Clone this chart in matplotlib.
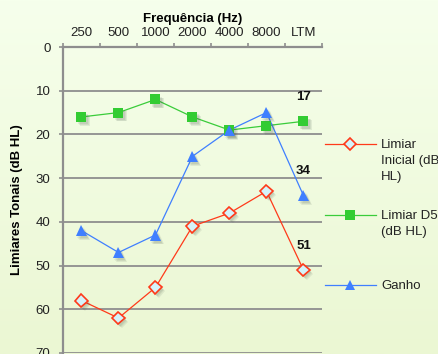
import numpy as np
import matplotlib
matplotlib.use("Agg")
import matplotlib.pyplot as plt
from matplotlib.lines import Line2D
import matplotlib.patheffects as pe

plt.rcParams['font.family'] = ['Liberation Sans', 'DejaVu Sans']

# Audiometric data
frequencies = ["250", "500", "1000", "2000", "4000", "8000", "LTM"]
limiar_inicial = [58, 62, 55, 41, 38, 33, 51]
limiar_d5 = [16, 15, 12, 16, 19, 18, 17]
ganho = [42, 47, 43, 25, 19, 15, 34]
y_ticks = [0, 10, 20, 30, 40, 50, 60, 70]

W, H, DPI = 439, 354, 100
FS = 9.5
fig = plt.figure(figsize=(W / DPI, H / DPI), dpi=DPI)

# soft vertical gradient background
bg = fig.add_axes([0, 0, 1, 1], zorder=-10)
top_c = np.array([0xF6, 0xFF, 0xEC]) / 255
bot_c = np.array([0xEB, 0xF7, 0xD3]) / 255
t = np.linspace(0, 1, 256)[:, None, None]
grad = top_c * (1 - t) + bot_c * t
grad = np.repeat(grad, 2, axis=1)
bg.imshow(grad, aspect='auto', extent=[0, 1, 0, 1])
bg.axis('off')

ax = fig.add_axes([63 / W, 1 - 353 / H, 259 / W, 306 / H])
ax.set_facecolor('none')

x = np.arange(len(frequencies))
grid_c = '#8E8E8E'

series = [
    (limiar_inicial, dict(color='#FF3A1A', marker='D', ms=6.4, mfc='#D4F3FA', mec='#FF3A1A', mew=1.2), "Limiar\nInicial (dB\nHL)"),
    (limiar_d5, dict(color='#3ACC3A', marker='s', ms=7.2, mfc='#33CC33', mec='#33CC33', mew=0), "Limiar D5\n(dB HL)"),
    (ganho, dict(color='#3F7FFF', marker='^', ms=8, mfc='#3F7FFF', mec='#3F7FFF', mew=0), "Ganho"),
]

# soft drop shadow under the markers
shadow = [pe.SimplePatchShadow(offset=(1.0 + d, -1.6 - d), shadow_rgbFace='#4A5A4A', alpha=0.10)
          for d in (0.0, 0.6, 1.2)] + [pe.Normal()]
for vals, st, _ in series:
    ax.plot(x, vals, color=st['color'], lw=0.9, zorder=3)
    ax.plot(x, vals, ls='none', marker=st['marker'], ms=st['ms'], mfc=st['mfc'],
            mec=st['mec'], mew=st['mew'], zorder=4, path_effects=shadow)

# value labels at LTM
for vals in (limiar_d5, ganho, limiar_inicial):
    ax.annotate(str(vals[-1]), (x[-1], vals[-1]), xytext=(0, 17.5), textcoords='offset points',
                ha='center', va='center', fontsize=FS, fontweight='bold', color='#111111', zorder=5)

ax.set_xlim(-0.5, len(frequencies) - 0.5)
ax.set_ylim(70, 0)
ax.set_yticks(y_ticks)
ax.yaxis.grid(True, color=grid_c, lw=1.3)
ax.set_axisbelow(True)

ax.xaxis.tick_top()
ax.xaxis.set_label_position('top')
ax.set_xticks(x)
ax.set_xticklabels(frequencies, fontsize=FS, color='#222222')
ax.set_xticks(np.arange(len(frequencies) + 1) - 0.5, minor=True)
ax.tick_params(axis='x', which='major', length=0, pad=6)
ax.tick_params(axis='x', which='minor', length=3, width=1.2, color=grid_c, top=True, bottom=False)
ax.tick_params(axis='y', length=3, width=1.2, color=grid_c, labelsize=FS, labelcolor='#222222', pad=6)
ax.set_xlabel("Frequência (Hz)", fontsize=FS, fontweight='bold', labelpad=3)
ax.set_ylabel("Limiares Tonais (dB HL)", fontsize=FS, fontweight='bold', labelpad=9)

for s in ('right', 'bottom'):
    ax.spines[s].set_visible(False)
for s in ('left', 'top'):
    ax.spines[s].set_color(grid_c)
    ax.spines[s].set_linewidth(1.6)

# legend drawn beside the plot
leg_rows = [144, 215, 285]
for (vals, st, label), yrow in zip(series, leg_rows):
    yf = 1 - yrow / H
    fig.add_artist(Line2D([325 / W, 376 / W], [yf, yf], color=st['color'], lw=0.9, transform=fig.transFigure))
    fig.add_artist(Line2D([350.5 / W], [yf], ls='none', marker=st['marker'], ms=st['ms'] * 0.95,
                          mfc=st['mfc'], mec=st['mec'], mew=st['mew'], transform=fig.transFigure))
    fig.text(381 / W, yf + 5 / H, label, ha='left', va='top', fontsize=FS, color='#222222', linespacing=1.45)

fig.savefig("out.png", dpi=DPI)
